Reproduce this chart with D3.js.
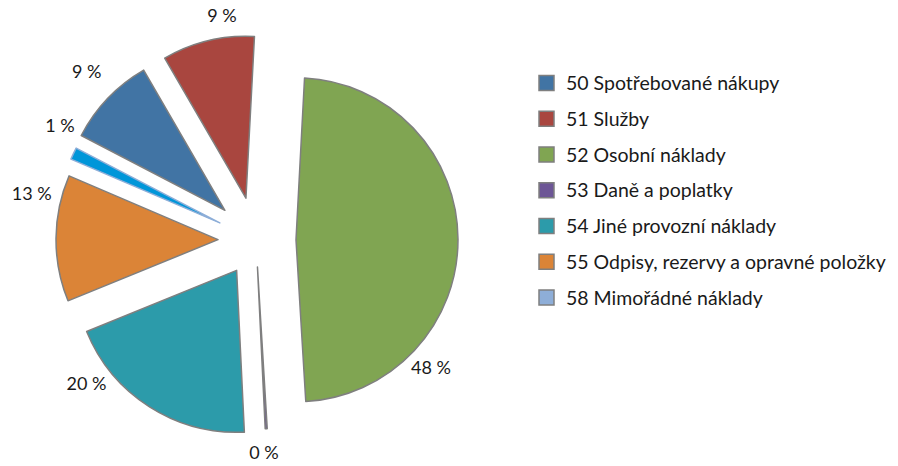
<!DOCTYPE html>
<html>
<head>
<meta charset="utf-8">
<script src="https://cdn.jsdelivr.net/npm/d3@7"></script>
<style>
  body { margin: 0; background: #fff; }
  text { font-family: Lato, "Open Sans", sans-serif; fill: #1a1a1a; }
</style>
</head>
<body>
<div id="viz-container"></div>
<script>
// data (percent of costs)
let categories = ["50 Spotřebované nákupy", "51 Služby", "52 Osobní náklady", "53 Daně a poplatky",
                  "54 Jiné provozní náklady", "55 Odpisy, rezervy a opravné položky", "58 Mimořádné náklady"];
let values = [9.0, 9.2, 48.2, 0.2, 19.6, 12.6, 1.2];

let fills   = ["#4174a4", "#a9463f", "#80a552", "#6d5696", "#2c9baa", "#db8437", "#0096d9"];
let legendFills = ["#4174a4", "#a9463f", "#80a552", "#6d5696", "#2c9baa", "#db8437", "#8eaed8"];
let strokes = ["#7f7f7f", "#7f7f7f", "#7f7f7f", "#7f7f7f", "#7f7f7f", "#7f7f7f", "#8eaed8"];

// how far each slice is pulled out, and where its label sits
let explode    = [43, 43, 40, 27, 36, 38, 40];
let labelAngle = [-44.8, -7.5, 133.5, 178, -127, -76, -58.8];
let labelDist  = [196, 184, 186, 186, 188, 192, 187];

let W = 898, H = 466;
let cx = 256, cy = 240, R = 162;
let startA = -62.5 * Math.PI / 180;

let viz = d3.select("#viz-container")
    .append("svg")
        .attr("width", W)
        .attr("height", H);

let pie = d3.pie().sort(null).value(d => d)
    .startAngle(startA).endAngle(startA + 2 * Math.PI);
let arc = d3.arc().innerRadius(0).outerRadius(R);

let total = d3.sum(values);
let slices = pie(values);

function tip(d, i) {
    let m = (d.startAngle + d.endAngle) / 2;
    return [cx + explode[i] * Math.sin(m), cy - explode[i] * Math.cos(m)];
}

let groups = viz.selectAll(".slice").data(slices).enter().append("g")
    .attr("class", "slice")
    .attr("transform", (d, i) => "translate(" + tip(d, i) + ")");

groups.append("path")
    .attr("d", arc)
    .attr("fill", (d, i) => fills[i])
    .attr("stroke", (d, i) => strokes[i])
    .attr("stroke-width", 1.5)
    .attr("stroke-linejoin", "round");

groups.append("text")
    .text(d => Math.round(d.data / total * 100) + " %")
    .attr("x", (d, i) => labelDist[i] * Math.sin(labelAngle[i] * Math.PI / 180))
    .attr("y", (d, i) => -labelDist[i] * Math.cos(labelAngle[i] * Math.PI / 180))
    .attr("text-anchor", "middle")
    .attr("dy", "0.35em")
    .attr("font-size", "18px");

// legend
let legend = viz.selectAll(".legendItem").data(categories).enter().append("g")
    .attr("class", "legendItem")
    .attr("transform", (d, i) => "translate(539," + (83 + i * 35.75) + ")");

legend.append("rect")
    .attr("x", 0)
    .attr("y", -7.5)
    .attr("width", 15)
    .attr("height", 15)
    .attr("fill", (d, i) => legendFills[i])
    .attr("stroke", "#7f7f7f")
    .attr("stroke-width", 1.5);

legend.append("text")
    .text(d => d)
    .attr("x", 27)
    .attr("dy", "0.36em")
    .attr("font-size", "19.5px");
</script>
</body>
</html>
